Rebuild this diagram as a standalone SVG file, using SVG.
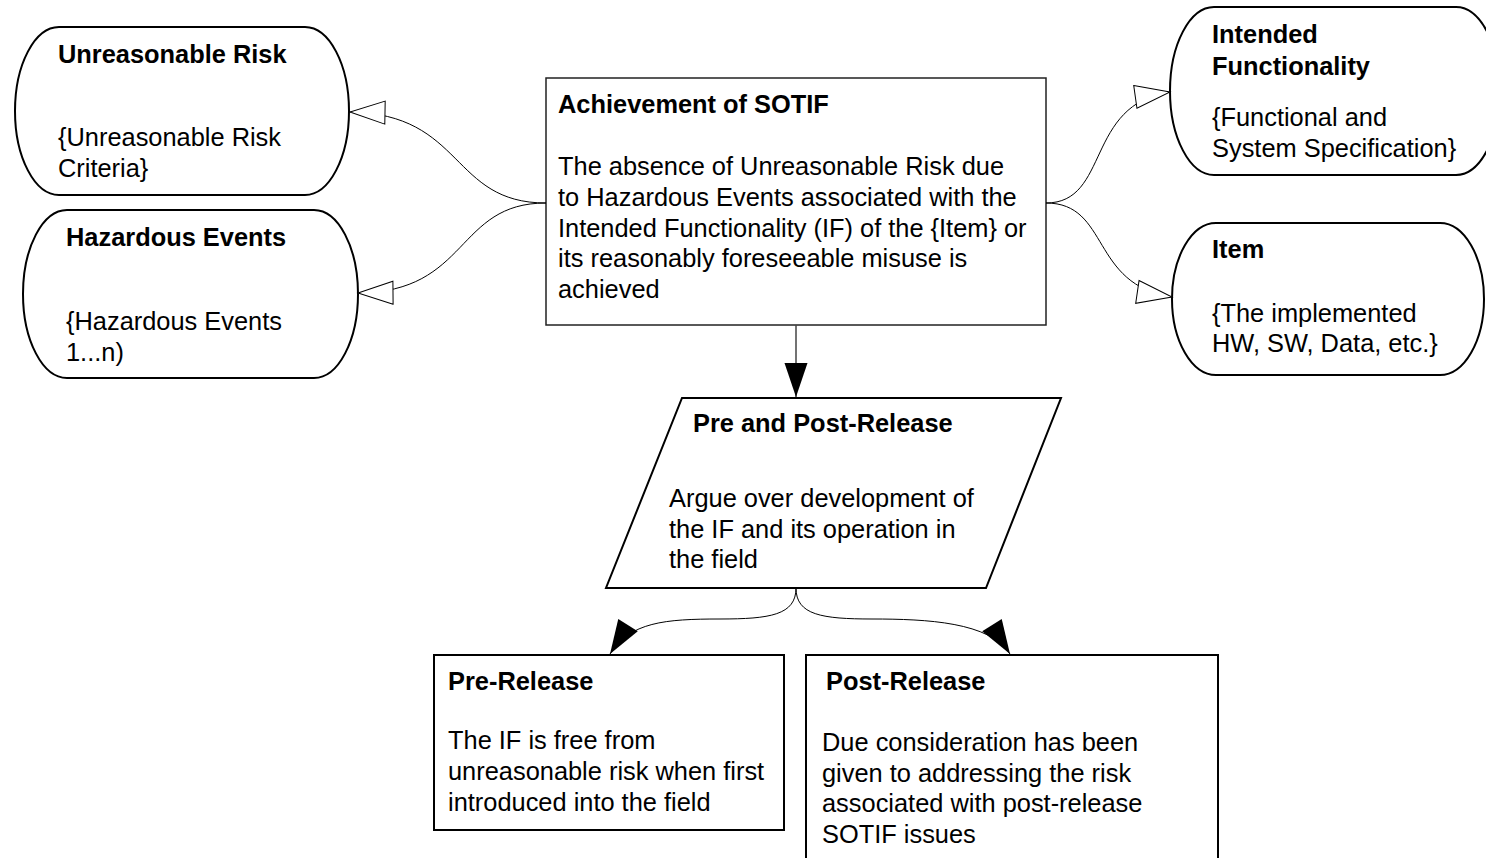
<svg xmlns="http://www.w3.org/2000/svg" width="1486" height="858" viewBox="0 0 1486 858">
  <style>
    text { font-family: "Liberation Sans", Arial, sans-serif; font-size: 25.4px; fill: #000; }
    .title { font-weight: bold; }
    .ctx { fill: #fff; stroke: #000; stroke-width: 2; }
    .goal { fill: #fff; stroke: #222; stroke-width: 1.5; }
    .strategy { fill: #fff; stroke: #000; stroke-width: 2; }
    .subgoal { fill: #fff; stroke: #000; stroke-width: 2; }
    .in-context { fill: none; stroke: #000; stroke-width: 1; marker-end: url(#open-arrow); }
    .supported-by { fill: none; stroke: #000; stroke-width: 1; marker-end: url(#solid-arrow); }
    .trunk { stroke: #444; stroke-width: 1.5; }
  </style>
  <defs>
    <marker id="open-arrow" markerUnits="userSpaceOnUse" viewBox="-37 -14 39 28" markerWidth="39" markerHeight="28" refX="0" refY="0" orient="auto">
      <path d="M-35,-11.5 L0,0 L-35,11.5 Z" fill="#fff" stroke="#000" stroke-width="1"/>
    </marker>
    <marker id="solid-arrow" markerUnits="userSpaceOnUse" viewBox="-37 -14 39 28" markerWidth="39" markerHeight="28" refX="0" refY="0" orient="auto">
      <path d="M-34,-11.5 L0,0 L-34,11.5 Z" fill="#000"/>
    </marker>
  </defs>

  <!-- context: unreasonable risk -->
  <g id="ctx-unreasonable-risk">
    <rect class="ctx" x="15" y="27" width="334" height="168" rx="44" ry="84"/>
    <text x="58" y="63" class="title">Unreasonable Risk</text>
    <text x="58" y="146">{Unreasonable Risk</text>
    <text x="58" y="177">Criteria}</text>
  </g>

  <!-- context: hazardous events -->
  <g id="ctx-hazardous-events">
    <rect class="ctx" x="23" y="210" width="335" height="168" rx="44" ry="84"/>
    <text x="66" y="246" class="title">Hazardous Events</text>
    <text x="66" y="330">{Hazardous Events</text>
    <text x="66" y="361">1...n)</text>
  </g>

  <!-- top goal -->
  <g id="goal-sotif">
    <rect class="goal" x="546" y="78" width="500" height="247"/>
    <text x="558" y="113" class="title">Achievement of SOTIF</text>
    <text x="558" y="175">The absence of Unreasonable Risk due</text>
    <text x="558" y="206">to Hazardous Events associated with the</text>
    <text x="558" y="237">Intended Functionality (IF) of the {Item} or</text>
    <text x="558" y="267">its reasonably foreseeable misuse is</text>
    <text x="558" y="298">achieved</text>
  </g>

  <!-- context: intended functionality -->
  <g id="ctx-intended-functionality">
    <rect class="ctx" x="1170" y="7" width="330" height="168" rx="44" ry="84"/>
    <text x="1212" y="43" class="title">Intended</text>
    <text x="1212" y="75" class="title">Functionality</text>
    <text x="1212" y="126">{Functional and</text>
    <text x="1212" y="157">System Specification}</text>
  </g>

  <!-- context: item -->
  <g id="ctx-item">
    <rect class="ctx" x="1172" y="223" width="312" height="152" rx="44" ry="76"/>
    <text x="1212" y="258" class="title">Item</text>
    <text x="1212" y="322">{The implemented</text>
    <text x="1212" y="352">HW, SW, Data, etc.}</text>
  </g>

  <!-- strategy -->
  <g id="strategy-release">
    <polygon class="strategy" points="682,398 1061,398 986,588 606,588"/>
    <text x="693" y="432" class="title">Pre and Post-Release</text>
    <text x="669" y="507">Argue over development of</text>
    <text x="669" y="538">the IF and its operation in</text>
    <text x="669" y="568">the field</text>
  </g>

  <!-- sub-goal: pre-release -->
  <g id="goal-pre-release">
    <rect class="subgoal" x="434" y="655" width="350" height="175"/>
    <text x="448" y="690" class="title">Pre-Release</text>
    <text x="448" y="749">The IF is free from</text>
    <text x="448" y="780">unreasonable risk when first</text>
    <text x="448" y="811">introduced into the field</text>
  </g>

  <!-- sub-goal: post-release -->
  <g id="goal-post-release">
    <rect class="subgoal" x="806" y="655" width="412" height="225"/>
    <text x="826" y="690" class="title">Post-Release</text>
    <text x="822" y="751">Due consideration has been</text>
    <text x="822" y="782">given to addressing the risk</text>
    <text x="822" y="812">associated with post-release</text>
    <text x="822" y="843">SOTIF issues</text>
  </g>

  <!-- connectors -->
  <g id="connectors">
    <path class="in-context" d="M546,203 C450,203 465,114 350,112"/>
    <path class="in-context" d="M546,203 C455,203 470,292 358,293"/>
    <path class="in-context" d="M1046,203 C1110,203 1085,104 1170,92"/>
    <path class="in-context" d="M1046,203 C1110,203 1090,285 1172,297"/>
    <path class="supported-by trunk" d="M796,325 L796,397"/>
    <path class="supported-by" d="M796,588 C796,615 770,619 720,619 C665,619 630,622 610,654"/>
    <path class="supported-by" d="M796,588 C796,615 822,619 872,619 C927,619 990,622 1010,654"/>
  </g>
</svg>
